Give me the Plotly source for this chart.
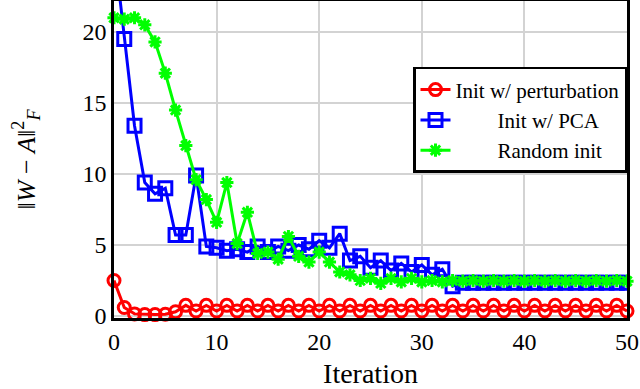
import plotly.graph_objects as go

iterations = list(range(51))

perturb = [2.5, 0.6, 0.15, 0.1, 0.1, 0.12, 0.3, 0.75, 0.35, 0.75, 0.35, 0.75, 0.35, 0.75, 0.35,
           0.75, 0.35, 0.75, 0.35, 0.75, 0.35, 0.75, 0.35, 0.75, 0.35, 0.75, 0.35, 0.75, 0.35,
           0.75, 0.35, 0.75, 0.35, 0.75, 0.35, 0.75, 0.35, 0.75, 0.35, 0.75, 0.35, 0.75, 0.35,
           0.75, 0.35, 0.75, 0.35, 0.75, 0.35, 0.75, 0.35]

pca = [26.0, 19.5, 13.4, 9.4, 8.6, 9.0, 5.7, 5.7, 9.9, 4.9, 4.8, 4.6, 4.7, 4.5, 4.9,
       4.5, 4.9, 4.6, 5.0, 4.7, 5.3, 4.8, 5.8, 3.9, 4.2, 3.4, 3.9, 3.2, 3.7, 3.1,
       3.6, 2.9, 3.3, 2.1, 2.35, 2.35, 2.35, 2.35, 2.35, 2.35, 2.35, 2.35, 2.35, 2.35,
       2.35, 2.35, 2.35, 2.35, 2.35, 2.35, 2.35]

random_init = [21.0, 20.9, 21.0, 20.5, 19.3, 17.1, 14.5, 12.0, 9.6, 8.2, 6.6, 9.4, 5.1, 7.3, 4.4,
               4.5, 4.0, 5.6, 4.2, 3.8, 4.5, 3.8, 3.1, 2.9, 2.5, 2.65, 2.3, 2.65, 2.4, 2.65,
               2.4, 2.5, 2.4, 2.5, 2.45, 2.5, 2.45, 2.5, 2.45, 2.5, 2.45, 2.5, 2.45, 2.5,
               2.45, 2.5, 2.45, 2.5, 2.45, 2.5, 2.45]

x_ticks = [0, 10, 20, 30, 40, 50]
y_ticks = [0, 5, 10, 15, 20]

FONT = "Liberation Serif, DejaVu Serif, serif"
NB = "\u00a0"

fig = go.Figure()
fig.add_trace(go.Scatter(
    x=iterations, y=perturb, mode="lines+markers", name="Init w/ perturbation",
    line=dict(color="#ff0000", width=3),
    marker=dict(symbol="circle-open", size=12, color="#ff0000", line=dict(width=3)),
    cliponaxis=False))
fig.add_trace(go.Scatter(
    x=iterations, y=pca, mode="lines+markers", name=NB * 8 + "Init w/ PCA",
    line=dict(color="#0000ff", width=3),
    marker=dict(symbol="square-open", size=13, color="#0000ff", line=dict(width=3)),
    cliponaxis=True))
fig.add_trace(go.Scatter(
    x=iterations, y=random_init, mode="lines+markers", name=NB * 8 + "Random init",
    line=dict(color="#00ff00", width=3),
    marker=dict(symbol="asterisk-open", size=11, color="#00ff00", line=dict(width=3, color="#00ff00")),
    cliponaxis=False))

fig.update_layout(
    width=640, height=389,
    margin=dict(l=114, r=13, t=1, b=71, autoexpand=False),
    paper_bgcolor="white", plot_bgcolor="white",
    font=dict(family=FONT, size=20, color="black"),
    showlegend=True,
    legend=dict(x=1, xanchor="right", y=0.792, yanchor="top",
                bgcolor="white", bordercolor="black", borderwidth=2.5,
                font=dict(family=FONT, size=21), tracegroupgap=0,
                itemwidth=30),
)
fig.update_xaxes(
    range=[0, 50], tickvals=x_ticks, ticktext=[str(v) for v in x_ticks],
    showgrid=True, gridcolor="#d3d3d3", gridwidth=1.5,
    showline=True, linecolor="black", linewidth=2.5, mirror=True,
    zeroline=False, ticks="", automargin=False, ticklabeloverflow="allow",
    title=dict(text="Iteration", font=dict(family=FONT, size=28), standoff=12),
    tickfont=dict(family=FONT, size=24),
)
fig.update_yaxes(
    range=[-0.14, 22.18], tickvals=y_ticks, ticktext=[str(v) for v in y_ticks],
    showgrid=True, gridcolor="#d3d3d3", gridwidth=1.5,
    showline=True, linecolor="black", linewidth=2.5, mirror=True,
    zeroline=False, ticks="", automargin=False,
    title=dict(text="‖<i>W</i> − <i>A</i>‖<sup>2</sup><sub><i>F</i></sub>", font=dict(family=FONT, size=26), standoff=40),
    tickfont=dict(family=FONT, size=24),
)

fig.write_html("out.html", config={"displayModeBar": False, "displaylogo": False},
               post_script="document.body.style.margin='0';document.body.style.padding='0';")
